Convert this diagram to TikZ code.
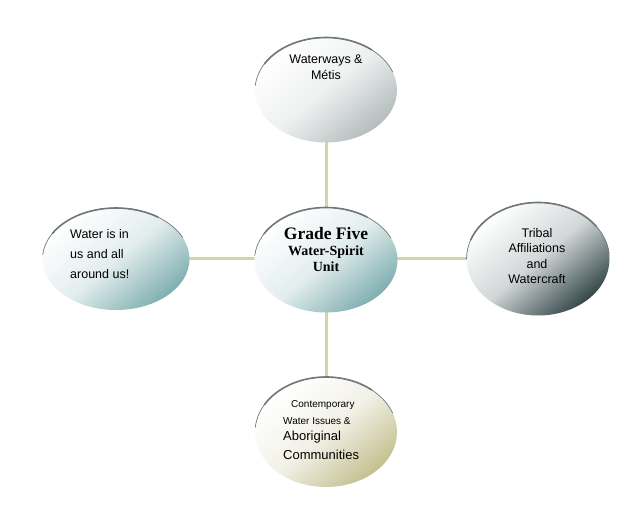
\documentclass[tikz,border=0pt]{standalone}
\usepackage{fontspec}
\setmainfont{Liberation Sans}
\newfontfamily\serifbold{Liberation Serif}
\usetikzlibrary{shapes.geometric}
\definecolor{linktan}{HTML}{D6D3A8}
\definecolor{tealc}{HTML}{7FAEB0}
\definecolor{grayc}{HTML}{B4BCBC}
\definecolor{darkc}{HTML}{33474A}
\definecolor{khakic}{HTML}{C4BF90}
\definecolor{rimc}{HTML}{6E7878}
\tikzset{
  bubble/.style={ellipse, draw=none, inner sep=0pt, top color=white, bottom color=#1, middle color=white!78!#1, shading angle=40},
  link/.style={draw=linktan, line width=3pt},
  rim/.style={draw=rimc, line width=1.6pt, line cap=round},
  rimthin/.style={draw=rimc, line width=0.7pt, line cap=round},
  txt/.style={font=\fontsize{12.5}{20}\selectfont, align=center, inner sep=0pt},
  ctxt/.style={font=\serifbold\bfseries\fontsize{14}{16}\selectfont, inner sep=0pt},
  btxt/.style={font=\fontsize{10}{12}\selectfont, inner sep=0pt, anchor=west},
  bbig/.style={font=\fontsize{13}{15}\selectfont, inner sep=0pt, anchor=west},
}
\begin{document}
\begin{tikzpicture}[x=1pt,y=1pt]
\useasboundingbox (0,0) rectangle (641,515);
% links (behind)
\coordinate (pT) at (326,425);
\coordinate (pC) at (326,255);
\coordinate (pL) at (116,256);
\coordinate (pR) at (538,256);
\coordinate (pB) at (326,83);
\draw[link] (pT) -- (pB);
\draw[link] (pL) -- (pR);
% bubbles
\node[bubble=grayc, minimum width=142pt, minimum height=105pt] (top) at (pT) {};
\node[bubble=tealc, minimum width=143pt, minimum height=105pt] (ctr) at (pC) {};
\node[bubble=tealc, minimum width=147pt, minimum height=102pt] (lft) at (pL) {};
\node[bubble=darkc, minimum width=143pt, minimum height=113pt] (rgt) at (pR) {};
\node[bubble=khakic, minimum width=142pt, minimum height=110pt] (bot) at (pB) {};
% rims
\draw[rimthin] (top.center) ++(175:71 and 52.5) arc (175:20:71 and 52.5);
\draw[rim] (top.center) ++(150:71 and 52.5) arc (150:50:71 and 52.5);
\draw[rimthin] (ctr.center) ++(175:71.5 and 52.5) arc (175:25:71.5 and 52.5);
\draw[rim] (ctr.center) ++(150:71.5 and 52.5) arc (150:55:71.5 and 52.5);
\draw[rimthin] (lft.center) ++(175:73.5 and 51) arc (175:25:73.5 and 51);
\draw[rim] (lft.center) ++(150:73.5 and 51) arc (150:55:73.5 and 51);
\draw[rimthin] (rgt.center) ++(180:71.5 and 56.5) arc (180:5:71.5 and 56.5);
\draw[rim] (rgt.center) ++(160:71.5 and 56.5) arc (160:35:71.5 and 56.5);
\draw[rimthin] (bot.center) ++(175:71 and 55) arc (175:20:71 and 55);
\draw[rim] (bot.center) ++(150:71 and 55) arc (150:50:71 and 55);
% texts
\node[txt, font=\fontsize{12.5}{16.5}\selectfont] (tTop) at (326,448) {Waterways \&\\Métis};
\node[ctxt, font=\serifbold\bfseries\fontsize{17.5}{20}\selectfont] (tC1) at (326,281) {Grade Five};
\node[ctxt] (tC2) at (326,263) {Water-Spirit};
\node[ctxt] (tC3) at (326,248) {Unit};
\node[txt, align=left, anchor=west] (tLft) at (70,261) {Water is in\\us and all\\around us!};
\node[txt, font=\fontsize{12.5}{15.3}\selectfont] (tRgt) at (537,259) {Tribal\\Affiliations\\and\\Watercraft};
\node[btxt] (tB1) at (291,110) {Contemporary};
\node[btxt] (tB2) at (283,94) {Water Issues \&};
\node[bbig] (tB3) at (283,78) {Aboriginal};
\node[bbig] (tB4) at (283,60) {Communities};
\end{tikzpicture}
\end{document}
